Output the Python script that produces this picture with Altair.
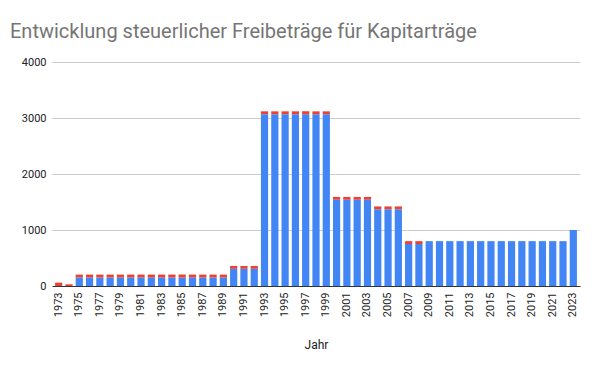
import altair as alt
import pandas as pd

years = list(range(1973, 2024))
sparer = [0, 0] + [153] * 15 + [307] * 3 + [3068] * 7 + [1540] * 4 + [1370] * 3 + [750] * 2 + [801] * 14 + [1000]
werbung = [60, 30] + [51] * 15 + [51] * 3 + [51] * 7 + [51] * 4 + [51] * 3 + [51] * 2 + [0] * 14 + [0]
series = ["Sparerfreibetrag", "Werbungskostenpauschale"]
colors = ["#4285F4", "#EA4335"]
y_ticks = [0, 1000, 2000, 3000, 4000]
x_labels = [str(y) for y in years if (y - 1973) % 2 == 0]

rows = []
for yr, s, w in zip(years, sparer, werbung):
    rows.append({"Jahr": str(yr), "Serie": series[0], "Wert": s, "ord": 0})
    rows.append({"Jahr": str(yr), "Serie": series[1], "Wert": w, "ord": 1})
df = pd.DataFrame(rows)

chart = alt.Chart(df).mark_bar().encode(
    x=alt.X("Jahr:O", title="Jahr",
            scale=alt.Scale(paddingInner=0.3, paddingOuter=0.3),
            axis=alt.Axis(values=x_labels, labelAngle=-90, labelFont="Roboto", labelFontSize=11,
                          labelColor="#222222", ticks=False, labelPadding=6,
                          domainColor="#333333", titleFont="Roboto", titleFontSize=12,
                          titleFontWeight="normal", titleColor="#222222", titlePadding=23)),
    y=alt.Y("Wert:Q", title=None, stack="zero",
            scale=alt.Scale(domain=[0, 4000], nice=False),
            axis=alt.Axis(values=y_ticks, domain=False, ticks=False, labelPadding=6,
                          labelFont="Roboto", labelFontSize=11, labelColor="#222222",
                          gridColor="#cccccc", format="d")),
    color=alt.Color("Serie:N", scale=alt.Scale(domain=series, range=colors), legend=None),
    order=alt.Order("ord:Q", sort="ascending"),
).properties(
    width=528, height=224,
    padding={"left": 44, "top": 54, "right": 10, "bottom": 75},
    autosize=alt.AutoSizeParams(type="none"),
    title=alt.TitleParams("Entwicklung steuerlicher Freibeträge für Kapitarträge",
                          anchor="start", frame="group", font="Roboto", fontSize=20,
                          fontWeight="normal", color="#757575", dx=-42, offset=14),
).configure_view(stroke=None)

chart.save("out.html", embed_options={"renderer": "svg", "actions": False})
